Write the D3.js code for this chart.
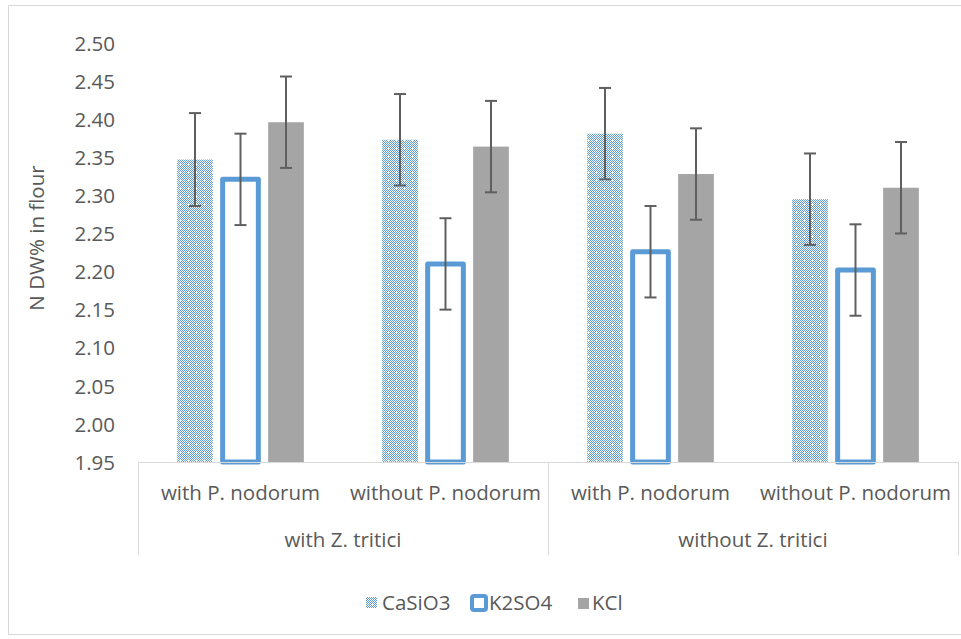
<!DOCTYPE html>
<html>
<head>
<meta charset="utf-8">
<script src="https://cdn.jsdelivr.net/npm/d3@7"></script>
<style>
  html, body { margin: 0; padding: 0; background: #fff; }
  svg { display: block; }
  text { font-family: "Open Sans", "Noto Sans", sans-serif; fill: #595959; }
</style>
</head>
<body>
<svg id="chart" width="961" height="639"></svg>
<script>
// ---- data ----
const groups = ["with Z. tritici", "without Z. tritici"];
const subgroups = ["with P. nodorum", "without P. nodorum"];
const series = ["CaSiO3", "K2SO4", "KCl"];
const CaSiO3 = [2.347, 2.373, 2.381, 2.295];
const K2SO4 = [2.321, 2.210, 2.226, 2.202];
const KCl = [2.396, 2.364, 2.328, 2.310];
const CaSiO3Err = [0.061, 0.060, 0.060, 0.060];
const K2SO4Err = [0.060, 0.060, 0.060, 0.060];
const KClErr = [0.060, 0.060, 0.060, 0.060];
const yTicks = [1.95, 2.00, 2.05, 2.10, 2.15, 2.20, 2.25, 2.30, 2.35, 2.40, 2.45, 2.50];
const yTitle = "N DW% in flour";

// build categories (group x subgroup)
const cats = [];
groups.forEach(g => subgroups.forEach(s => cats.push(g + "|" + s)));
const valuesBySeries = { CaSiO3: CaSiO3, K2SO4: K2SO4, KCl: KCl };
const errBySeries = { CaSiO3: CaSiO3Err, K2SO4: K2SO4Err, KCl: KClErr };

const svg = d3.select("#chart");
const pLeft = 138, pRight = 958, pTop = 43, pBottom = 462;
const FS = 20.5;

// chart border
svg.append("rect").attr("x", 8.5).attr("y", 5.5).attr("width", 970).attr("height", 629)
  .attr("fill", "none").attr("stroke", "#d9d9d9").attr("stroke-width", 1);

// pattern for CaSiO3
const defs = svg.append("defs");
const pat = defs.append("pattern").attr("id", "dotgrid").attr("patternUnits", "userSpaceOnUse")
  .attr("width", 8).attr("height", 8).attr("x", 0).attr("y", 0);
pat.append("rect").attr("width", 8).attr("height", 8).attr("fill", "#ffffff");
for (let i = 0; i < 8; i++) {
  for (let j = 0; j < 8; j++) {
    if ((i + j) % 2 === 0) {
      pat.append("rect").attr("x", i).attr("y", j).attr("width", 1).attr("height", 1).attr("fill", "#5b9bd5");
    }
  }
}
[[3,4],[4,3],[4,4],[5,4],[4,5]].forEach(([i,j]) => {
  pat.append("rect").attr("x", i).attr("y", j).attr("width", 1).attr("height", 1).attr("fill", "#ffffff");
});

// scales
const y = d3.scaleLinear().domain([1.95, 2.50]).range([pBottom, pTop]);
const x0 = d3.scaleBand().domain(cats).range([pLeft, pRight]).paddingInner(0.382).paddingOuter(0.191);
const x1 = d3.scaleBand().domain(series).range([0, x0.bandwidth()]).paddingInner(0.2154);
const xCat = d3.scaleBand().domain(cats).range([pLeft, pRight]);
const xGroup = d3.scaleBand().domain(groups).range([pLeft, pRight]);

// y axis
const yAxis = svg.append("g").attr("transform", `translate(${pLeft - 23},0)`)
  .call(d3.axisLeft(y).tickValues(yTicks).tickSize(0).tickPadding(0).tickFormat(d3.format(".2f")));
yAxis.select(".domain").remove();
yAxis.selectAll("text").attr("font-size", FS).attr("fill", "#595959")
  .style("font-family", '"Open Sans", sans-serif').attr("dy", "0.35em").attr("x", 0);

// y title
svg.append("text").attr("transform", `translate(44,238) rotate(-90)`)
  .attr("text-anchor", "middle").attr("font-size", FS).text(yTitle);

// bars
const barG = svg.append("g");
series.forEach(s => {
  cats.forEach((c, i) => {
    const v = valuesBySeries[s][i];
    const bx = x0(c) + x1(s);
    const bw = x1.bandwidth();
    const r = barG.append("rect").attr("x", bx).attr("y", y(v)).attr("width", bw).attr("height", y(1.95) - y(v));
    if (s === "CaSiO3") {
      r.attr("fill", "url(#dotgrid)");
    } else if (s === "K2SO4") {
      r.attr("fill", "#ffffff").attr("stroke", "#5b9bd5").attr("stroke-width", 5).attr("stroke-linejoin", "round");
    } else {
      r.attr("fill", "#a5a5a5");
    }
  });
});

// category axis lines
const axG = svg.append("g").attr("stroke", "#d9d9d9").attr("stroke-width", 1);
axG.append("line").attr("x1", pLeft).attr("x2", pRight).attr("y1", pBottom + 0.5).attr("y2", pBottom + 0.5);
[pLeft, xGroup(groups[1]), pRight].forEach(xx => {
  axG.append("line").attr("x1", Math.round(xx) + 0.5).attr("x2", Math.round(xx) + 0.5)
    .attr("y1", pBottom).attr("y2", 555);
});

// error bars
const errG = svg.append("g").attr("stroke", "#5f5f5f").attr("stroke-width", 2);
series.forEach(s => {
  cats.forEach((c, i) => {
    const v = valuesBySeries[s][i], e = errBySeries[s][i];
    const cx = x0(c) + x1(s) + x1.bandwidth() / 2;
    errG.append("line").attr("x1", cx).attr("x2", cx).attr("y1", y(v + e)).attr("y2", y(v - e));
    [v + e, v - e].forEach(t => {
      errG.append("line").attr("x1", cx - 6).attr("x2", cx + 6).attr("y1", y(t)).attr("y2", y(t));
    });
  });
});

// category labels
cats.forEach(c => {
  const sub = c.split("|")[1];
  svg.append("text").attr("x", xCat(c) + xCat.bandwidth() / 2).attr("y", 493).attr("dy", "0.35em")
    .attr("text-anchor", "middle").attr("font-size", FS).text(sub);
});
groups.forEach(g => {
  svg.append("text").attr("x", xGroup(g) + xGroup.bandwidth() / 2).attr("y", 540).attr("dy", "0.35em")
    .attr("text-anchor", "middle").attr("font-size", FS).text(g);
});

// legend
const legendItems = [
  { name: series[0], sx: 366, tx: 382 },
  { name: series[1], sx: 470, tx: 489 },
  { name: series[2], sx: 578, tx: 592 }
];
const ly = 603;
legendItems.forEach(it => {
  if (it.name === "CaSiO3") {
    svg.append("rect").attr("x", it.sx).attr("y", ly - 6).attr("width", 11).attr("height", 11).attr("fill", "url(#dotgrid)");
  } else if (it.name === "K2SO4") {
    svg.append("rect").attr("x", it.sx + 2).attr("y", ly - 7).attr("width", 14).attr("height", 14)
      .attr("rx", 2).attr("fill", "#fff").attr("stroke", "#5b9bd5").attr("stroke-width", 4);
  } else {
    svg.append("rect").attr("x", it.sx).attr("y", ly - 5).attr("width", 11).attr("height", 11).attr("fill", "#a5a5a5");
  }
  svg.append("text").attr("x", it.tx).attr("y", ly).attr("dy", "0.35em").attr("font-size", FS).text(it.name);
});
</script>
</body>
</html>
